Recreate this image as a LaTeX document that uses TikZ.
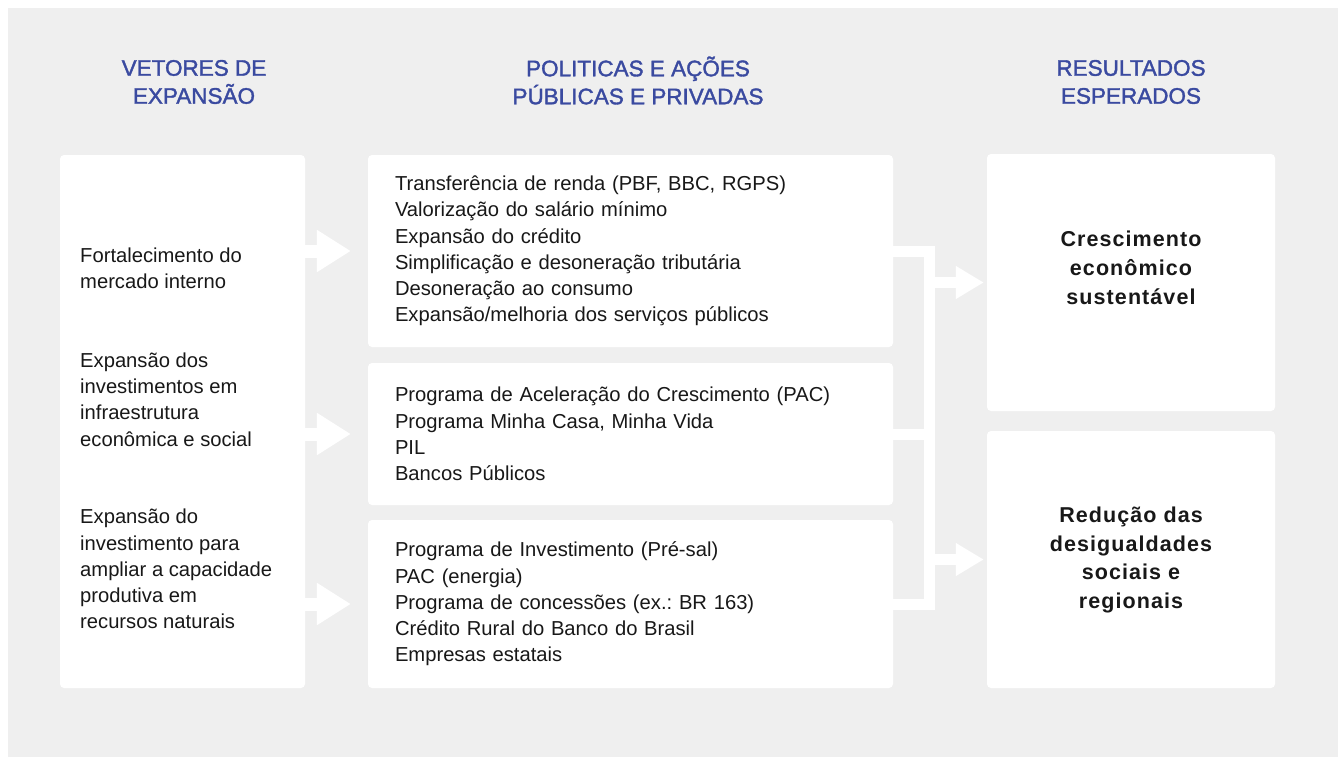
\documentclass[tikz,border=0pt]{standalone}
\usepackage{fontspec}
\setmainfont{Liberation Sans}
\newfontfamily\headfont{Liberation Sans}[FakeBold=1.6]
\newfontfamily\resultfont{Liberation Sans Bold}[LetterSpace=5]
\usetikzlibrary{arrows.meta}
\definecolor{panelgrey}{RGB}{239,239,239}
\definecolor{headblue}{RGB}{58,74,160}
\definecolor{inktext}{RGB}{24,24,24}
\frenchspacing

\begin{document}
\begin{tikzpicture}[x=1pt, y=-1pt,
    box/.style={fill=white, rounded corners=4pt, inner sep=0pt},
    head/.style={text=headblue, align=center, font=\headfont\fontsize{22.5}{28}\selectfont},
    vetor/.style={text=inktext, align=left, anchor=west, inner sep=0pt, font=\fontsize{20.2}{26.2}\selectfont},
    acao/.style={box, text=inktext, align=left, text width=471pt, inner xsep=27pt,
      minimum width=525pt, font=\fontsize{20.2}{26.2}\selectfont},
    result/.style={text=inktext, align=center, font=\resultfont\fontsize{21.5}{28.7}\selectfont},
    block/.style={draw=white, line width=#1, line join=miter},
  ]
  \useasboundingbox (0,0) rectangle (1338,757);
  \fill[white] (0,0) rectangle (1338,757);
  \fill[panelgrey] (8,8) rectangle (1338,757);

  % column headers
  \node[head] (h1) at (194,82) {VETORES DE\\EXPANSÃO};
  \node[head] (h2) at (638,80.5) {POLITICAS E AÇÕES\\PÚBLICAS E PRIVADAS};
  \node[head] (h3) at (1131,82) {RESULTADOS\\ESPERADOS};

  % boxes
  \node[box, minimum width=245pt, minimum height=533pt] (V) at (182.5,421.5) {};
  \node[acao, minimum height=192pt] (P1) at (630.5,251) {Transferência de renda (PBF, BBC, RGPS)\\
    Valorização do salário mínimo\\Expansão do crédito\\Simplificação e desoneração tributária\\
    Desoneração ao consumo\\Expansão/melhoria dos serviços públicos};
  \node[acao, minimum height=142pt] (P2) at (630.5,434) {Programa de Aceleração do Crescimento (PAC)\\
    Programa Minha Casa, Minha Vida\\PIL\\Bancos Públicos};
  \node[acao, minimum height=168pt] (P3) at (630.5,604) {Programa de Investimento (Pré-sal)\\
    PAC (energia)\\Programa de concessões (ex.: BR 163)\\Crédito Rural do Banco do Brasil\\
    Empresas estatais};
  \node[box, minimum width=288pt, minimum height=257pt] (R1) at (1131,282.5) {};
  \node[box, minimum width=288pt, minimum height=257pt] (R2) at (1131,559.5) {};

  % texts in the side boxes
  \node[vetor] (v1) at (80,268.5) {Fortalecimento do\\mercado interno};
  \node[vetor] (v2) at (80,399.5) {Expansão dos\\investimentos em\\infraestrutura\\econômica e social};
  \node[vetor] (v3) at (80,569) {Expansão do\\investimento para\\ampliar a capacidade\\produtiva em\\recursos naturais};
  \node[result] (r1) at (1131,268) {Crescimento\\econômico\\sustentável};
  \node[result] (r2) at (1131,560) {Redução das\\desigualdades\\sociais e\\regionais};

  % arrows into the middle column
  \foreach \p in {P1,P2,P3}
    \draw[block=13pt, -{Triangle[length=34pt, width=40pt]}]
      (V.east |- \p.west) -- ([xshift=-17pt]\p.west);

  % collecting bar
  \coordinate (T) at (929.5,251.5);
  \coordinate (M) at (929.5,434);
  \coordinate (B) at (929.5,604.5);
  \draw[block=11pt] ([xshift=-2pt]P1.east |- T) -- (T) -- (B) -- ([xshift=-2pt]P3.east |- B);
  \draw[block=11pt] ([xshift=-2pt]P2.east |- M) -- (M);
  \draw[block=11pt, -{Triangle[length=28pt, width=31pt]}] (T |- R1.west) -- ([xshift=-3pt]R1.west);
  \draw[block=11pt, -{Triangle[length=28pt, width=31pt]}] (T |- R2.west) -- ([xshift=-3pt]R2.west);
\end{tikzpicture}
\end{document}
